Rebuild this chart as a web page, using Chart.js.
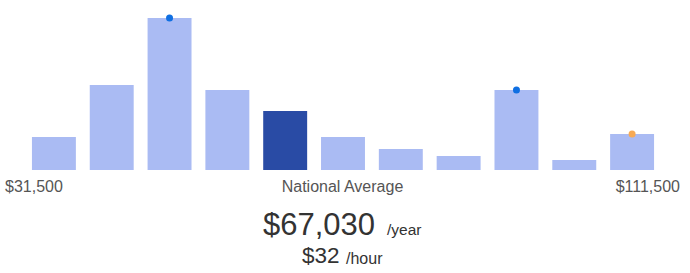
<!DOCTYPE html>
<html>
<head>
<meta charset="utf-8">
<script src="https://cdn.jsdelivr.net/npm/chart.js@4/dist/chart.umd.min.js"></script>
<style>
  body { margin: 0; width: 690px; height: 273px; background: #fff; font-family: "Liberation Sans", Arial, sans-serif; position: relative; overflow: hidden; }
  #wrap { position: absolute; left: 0; top: 0; width: 690px; height: 174px; }
  .t { position: absolute; line-height: 1; white-space: nowrap; }
  .lbl { top: 178.5px; font-size: 16px; color: #555; }
  .dark { color: #333; }
</style>
</head>
<body>
<div id="wrap"><canvas id="barChart"></canvas></div>
<div class="t lbl" style="left:5px">$31,500</div>
<div class="t lbl" style="left:0;width:685px;text-align:center">National Average</div>
<div class="t lbl" style="right:10px">$111,500</div>
<div class="t dark" style="left:263px;top:209px;font-size:31px">$67,030</div>
<div class="t dark" style="left:387px;top:222px;font-size:15.5px">/year</div>
<div class="t dark" style="left:302px;top:245px;font-size:22.5px">$32</div>
<div class="t dark" style="left:346px;top:250.5px;font-size:16px">/hour</div>
<script>
const bins = ['1', '2', '3', '4', '5', '6', '7', '8', '9', '10', '11'];
const counts = [33, 85, 152, 80, 59, 33, 21, 14, 80, 10, 36];
const highlightBin = 4;
const blueMarks = [null, null, 152, null, null, null, null, null, 80, null, null];
const orangeMarks = [null, null, null, null, null, null, null, null, null, null, 36];

document.addEventListener('DOMContentLoaded', function () {
  const ctx = document.getElementById('barChart').getContext('2d');
  new Chart(ctx, {
    data: {
      labels: bins,
      datasets: [
        {
          type: 'line', data: blueMarks, showLine: false, clip: false,
          pointRadius: 3.5, pointBackgroundColor: '#0f6fe2', pointBorderWidth: 0
        },
        {
          type: 'line', data: orangeMarks, showLine: false, clip: false,
          pointRadius: 3.5, pointBackgroundColor: '#f7aa55', pointBorderWidth: 0
        },
        {
          type: 'bar', data: counts,
          backgroundColor: counts.map((v, i) => i === highlightBin ? '#294ba5' : '#aabbf3'),
          categoryPercentage: 0.76, barPercentage: 1
        }
      ]
    },
    options: {
      responsive: true,
      maintainAspectRatio: false,
      animation: false,
      layout: { padding: { left: 25, right: 29, top: 18, bottom: 4 } },
      plugins: { legend: { display: false }, tooltip: { enabled: false } },
      scales: {
        x: { display: false },
        y: { display: false, min: 0, max: 152 }
      }
    }
  });
});
</script>
</body>
</html>
